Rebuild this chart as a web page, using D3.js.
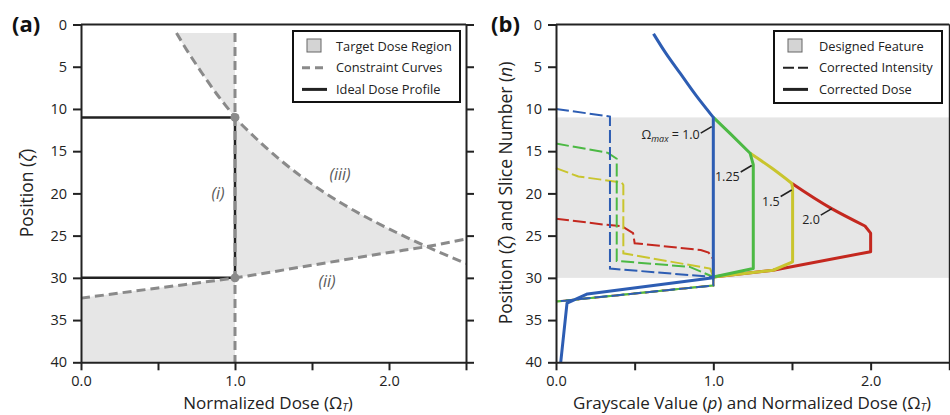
<!DOCTYPE html>
<html>
<head>
<meta charset="utf-8">
<script src="https://cdn.jsdelivr.net/npm/d3@7"></script>
<style>
  body { margin: 0; background: #fff; }
  svg text { font-family: "Open Sans", "Noto Sans", sans-serif; fill: #222; }
</style>
</head>
<body>
<div id="canvas"></div>
<script>
"use strict"

/* Data: axes */
let yTicks = [0, 5, 10, 15, 20, 25, 30, 35, 40];
let xTicks = [0, 0.5, 1, 1.5, 2, 2.5];
let xTickLabels = ["0.0", "", "1.0", "", "2.0", ""];

/* Data: panel (a) constraint curves (dose, position) */
let curveIii = [[0.62, 1], [0.70, 3.4], [0.78, 5.6], [0.88, 8.2], [0.97, 10.3], [1.0, 11],
    [1.12, 13.2], [1.24, 15.2], [1.5, 18.9], [1.77, 22], [2.0, 24.2], [2.245, 26.3], [2.5, 28.3]];
let curveIi = [[0, 32.4], [0.5, 31.2], [1.0, 30], [1.5, 28.5], [2.0, 27.0], [2.245, 26.3], [2.5, 25.4]];
let curveI = [[1, 1], [1, 40]];
let idealProfile = [[0, 11], [1, 11], [1, 30], [0, 30]];
let cornerPoints = [[1, 11], [1, 30]];
let regionTop = 1, regionBottom = 40, crossDose = 2.245;

/* Data: panel (b) */
let featureRange = [11, 30];

// corrected dose, curved part then straight part
let blueDoseCurve = [[0.62, 1.1], [0.70, 3.45], [0.79, 5.8], [0.89, 8.4], [1.0, 11]];
let blueDoseLine = [[1.0, 11], [1.0, 30], [0.2, 31.9], [0.07, 33], [0.03, 40]];
let greenDoseCurve = [[1.0, 11], [1.106, 12.9], [1.234, 15.25]];
let greenDoseLine = [[1.234, 15.25], [1.254, 16.6], [1.254, 28.9], [1.0, 29.9]];
let yellowDoseCurve = [[1.234, 15.25], [1.371, 17.0], [1.498, 18.8]];
let yellowDoseLine = [[1.498, 18.8], [1.504, 19.4], [1.504, 28.1], [1.38, 29.1], [1.0, 29.9]];
let redDoseCurve = [[1.498, 18.8], [1.752, 21.8], [1.964, 23.86]];
let redDoseLine = [[1.964, 23.86], [2.0, 24.7], [2.0, 26.9], [1.38, 29.1], [1.0, 29.9]];

// corrected intensity (grayscale value, slice)
let blueIntensity = [[0, 10.0], [0.343, 10.9], [0.343, 28.9], [1.0, 29.9], [1.0, 30.9], [0.057, 32.7], [0, 32.8]];
let greenIntensity = [[0, 14.1], [0.33, 15.2], [0.386, 15.9], [0.386, 28.0], [0.85, 28.7], [1.0, 29.9], [1.0, 30.9], [0.057, 32.7], [0, 32.8]];
let yellowIntensity = [[0, 17.0], [0.142, 18.0], [0.418, 18.7], [0.428, 19.0], [0.428, 27.1], [0.98, 28.9], [1.0, 29.9], [1.0, 30.9], [0.057, 32.7], [0, 32.8]];
let redIntensity = [[0, 23.0], [0.31, 23.7], [0.42, 23.9], [0.49, 24.7], [0.50, 25.9], [0.92, 26.7], [0.97, 27.0], [1.0, 27.8], [1.0, 29.9], [1.0, 30.9], [0.057, 32.7], [0, 32.8]];

let omegaLabels = ["1.0", "1.25", "1.5", "2.0"];
let omegaAnchors = [[0.99, 12.1], [1.244, 16.7], [1.498, 19.6], [1.753, 21.8]];

/* Colours */
let blue = "#2d5db3", green = "#4cb944", yellow = "#c9c52e", red = "#c4281f";
let constraintGrey = "#8a8a8a", shade = "#e6e6e6", ink = "#222";

/* Canvas */
let svgWidth = 950, svgHeight = 415;
let svg = d3.select("#canvas").append("svg")
    .attr("width", svgWidth)
    .attr("height", svgHeight);

/* Scales */
let yA = d3.scaleLinear().domain([0, 40]).range([24.5, 362.3]);
let xA = d3.scaleLinear().domain([0, 2.5]).range([81, 466]);
let xB = d3.scaleLinear().domain([0, 2.5]).range([556, 949.3]);

function lineGen(x, y, curve) {
    return d3.line().x(d => x(d[0])).y(d => y(d[1])).curve(curve || d3.curveLinear);
}

// join a smooth piece and a straight piece into one path
function joined(x, pieces) {
    return pieces.map((p, i) => {
        let s = lineGen(x, yA, p.smooth ? d3.curveMonotoneY : d3.curveLinear)(p.pts);
        return i == 0 ? s : s.replace(/^M/, "L");
    }).join("");
}

function drawFrame(x, y) {
    let g = svg.append("g");
    let x0 = x.range()[0], x1 = x.range()[1];
    let y0 = y.range()[0], y1 = y.range()[1];

    g.append("g").attr("transform", "translate(" + x0 + ",0)")
        .call(d3.axisLeft(y).tickValues(yTicks).tickSize(8).tickSizeOuter(0).tickPadding(6));
    g.append("g").attr("transform", "translate(0," + y1 + ")")
        .call(d3.axisBottom(x).tickValues(xTicks).tickFormat((d, i) => xTickLabels[i])
            .tickSize(8).tickSizeOuter(0).tickPadding(5));
    g.append("g").attr("transform", "translate(" + x1 + ",0)")
        .call(d3.axisRight(y).tickValues(yTicks).tickFormat("").tickSize(8).tickSizeOuter(0));
    g.append("line")
        .attr("x1", x0).attr("x2", x1)
        .attr("y1", y0).attr("y2", y0);

    g.selectAll("path, line").attr("stroke", ink).attr("stroke-width", 2);
    g.selectAll("text").attr("font-size", 14.5).attr("fill", ink)
        .attr("font-family", "'Open Sans', sans-serif");
    return g;
}

/**** Panel (a) ****/
let lineIii = lineGen(xA, yA, d3.curveMonotoneY);
let lineIi = lineGen(xA, yA, d3.curveMonotoneX);

// target dose region: three pieces
let topPiece = curveIii.filter(d => d[1] <= 11);
let midIii = curveIii.filter(d => d[1] >= 11 && d[0] <= crossDose);
let midIi = curveIi.filter(d => d[0] >= 1 && d[0] <= crossDose).reverse();
let lowIi = curveIi.filter(d => d[0] <= 1);

svg.append("path")
    .attr("d", lineIii(topPiece) + "L" + xA(1) + "," + yA(11) + "L" + xA(1) + "," + yA(regionTop) + "Z")
    .attr("fill", shade);
svg.append("path")
    .attr("d", lineIii(midIii) + lineIi(midIi).replace(/^M/, "L") + "Z")
    .attr("fill", shade);
svg.append("path")
    .attr("d", lineIi(lowIi) + "L" + xA(1) + "," + yA(regionBottom) + "L" + xA(0) + "," + yA(regionBottom) + "Z")
    .attr("fill", shade);

// ideal dose profile
svg.append("path")
    .attr("d", lineGen(xA, yA)(idealProfile))
    .attr("fill", "none")
    .attr("stroke", ink)
    .attr("stroke-width", 2.5);

// constraint curves
[lineIii(curveIii), lineIi(curveIi), lineGen(xA, yA)(curveI)].forEach(d => {
    svg.append("path")
        .attr("d", d)
        .attr("fill", "none")
        .attr("stroke", constraintGrey)
        .attr("stroke-width", 3)
        .attr("stroke-dasharray", "9,5");
});

svg.selectAll("circle.corner")
    .data(cornerPoints)
    .join("circle")
    .attr("class", "corner")
    .attr("cx", d => xA(d[0]))
    .attr("cy", d => yA(d[1]))
    .attr("r", 4.5)
    .attr("fill", constraintGrey);

// curve labels
[["(i)", 218, 199], ["(iii)", 340, 180], ["(ii)", 327, 287]].forEach(t => {
    svg.append("text")
        .attr("x", t[1]).attr("y", t[2])
        .attr("text-anchor", "middle")
        .attr("font-size", 16)
        .attr("font-style", "italic")
        .style("fill", "#5a5a5a")
        .text(t[0]);
});

drawFrame(xA, yA);

/**** Panel (b) ****/
svg.append("rect")
    .attr("x", xB(0))
    .attr("y", yA(featureRange[0]))
    .attr("width", xB(2.5) - xB(0))
    .attr("height", yA(featureRange[1]) - yA(featureRange[0]))
    .attr("fill", shade);

let lineB = lineGen(xB, yA);
[[redIntensity, red], [yellowIntensity, yellow], [greenIntensity, green], [blueIntensity, blue]].forEach(s => {
    svg.append("path")
        .attr("d", lineB(s[0]))
        .attr("fill", "none")
        .attr("stroke", s[1])
        .attr("stroke-width", 2)
        .attr("stroke-dasharray", "13,4");
});

[[redDoseCurve, redDoseLine, red], [yellowDoseCurve, yellowDoseLine, yellow],
 [greenDoseCurve, greenDoseLine, green], [blueDoseCurve, blueDoseLine, blue]].forEach(s => {
    svg.append("path")
        .attr("d", joined(xB, [{ pts: s[0], smooth: true }, { pts: s[1] }]))
        .attr("fill", "none")
        .attr("stroke", s[2])
        .attr("stroke-width", 3)
        .attr("stroke-linejoin", "round");
});

// omega labels with leaders
omegaAnchors.forEach((a, i) => {
    let ax = xB(a[0]), ay = yA(a[1]);
    let sx = ax - 11, sy = ay + 6.5;
    svg.append("line")
        .attr("x1", sx).attr("y1", sy)
        .attr("x2", ax).attr("y2", ay)
        .attr("stroke", ink)
        .attr("stroke-width", 1.6);
    let t = svg.append("text")
        .attr("x", sx - 1)
        .attr("y", sy + (i == 0 ? 6 : 9))
        .attr("text-anchor", "end")
        .attr("font-size", 12.5);
    if (i == 0) {
        t.append("tspan").text("Ω");
        t.append("tspan").attr("font-size", 9).attr("font-style", "italic").attr("dy", 3).text("max");
        t.append("tspan").attr("dy", -3).text(" = " + omegaLabels[i]);
    } else {
        t.text(omegaLabels[i]);
    }
});

drawFrame(xB, yA);

/**** Titles ****/
function omegaT(t) {
    t.append("tspan").text("Ω");
    t.append("tspan").attr("font-size", 11).attr("font-style", "italic").attr("dy", 2.5).text("T");
    t.append("tspan").attr("dy", -2.5).text(")");
}

let xTitleA = svg.append("text")
    .attr("x", 268).attr("y", 408.5)
    .attr("text-anchor", "middle")
    .attr("font-size", 17)
    .text("Normalized Dose (");
omegaT(xTitleA);

let xTitleB = svg.append("text")
    .attr("x", 752).attr("y", 408.5)
    .attr("text-anchor", "middle")
    .attr("font-size", 17)
    .text("Grayscale Value (");
xTitleB.append("tspan").attr("font-style", "italic").text("p");
xTitleB.append("tspan").text(") and Normalized Dose (");
omegaT(xTitleB);

let yTitleA = svg.append("text")
    .attr("transform", "translate(33,193) rotate(-90)")
    .attr("text-anchor", "middle")
    .attr("font-size", 17.5)
    .text("Position (");
yTitleA.append("tspan").attr("font-style", "italic").text("ζ");
yTitleA.append("tspan").text(")");

let yTitleB = svg.append("text")
    .attr("transform", "translate(512,193) rotate(-90)")
    .attr("text-anchor", "middle")
    .attr("font-size", 17.5)
    .text("Position (");
yTitleB.append("tspan").attr("font-style", "italic").text("ζ");
yTitleB.append("tspan").text(") and Slice Number (");
yTitleB.append("tspan").attr("font-style", "italic").text("n");
yTitleB.append("tspan").text(")");

[["(a)", 12], ["(b)", 491]].forEach(p => {
    svg.append("text")
        .attr("x", p[1]).attr("y", 32)
        .attr("font-size", 22)
        .attr("font-weight", "bold")
        .style("fill", "#111")
        .text(p[0]);
});

/**** Legends ****/
function legend(x, y, w, h, items) {
    let g = svg.append("g").attr("transform", "translate(" + x + "," + y + ")");
    g.append("rect")
        .attr("width", w).attr("height", h)
        .attr("fill", "#fff")
        .attr("stroke", "#111")
        .attr("stroke-width", 2);
    items.forEach((it, i) => {
        let cy = 15 + i * 21.7;
        if (it.kind == "box") {
            g.append("rect")
                .attr("x", it.sx + 5).attr("y", cy - 7)
                .attr("width", 14).attr("height", 13)
                .attr("fill", "#d4d4d4")
                .attr("stroke", "#666")
                .attr("stroke-width", 1);
        } else {
            g.append("line")
                .attr("x1", it.sx).attr("x2", it.sx + 25)
                .attr("y1", cy).attr("y2", cy)
                .attr("stroke", it.color)
                .attr("stroke-width", it.width)
                .attr("stroke-dasharray", it.dash);
        }
        g.append("text")
            .attr("x", it.tx).attr("y", cy + 4.5)
            .attr("font-size", 12.8)
            .text(it.label);
    });
}

legend(293, 31, 167, 71, [
    { kind: "box", sx: 9, tx: 43, label: "Target Dose Region" },
    { kind: "line", sx: 9, tx: 43, color: constraintGrey, width: 3, dash: "8,5", label: "Constraint Curves" },
    { kind: "line", sx: 9, tx: 43, color: ink, width: 3, dash: null, label: "Ideal Dose Profile" }
]);

legend(774, 31, 168, 72, [
    { kind: "box", sx: 9, tx: 45, label: "Designed Feature" },
    { kind: "line", sx: 9, tx: 45, color: ink, width: 2, dash: "11,4", label: "Corrected Intensity" },
    { kind: "line", sx: 9, tx: 45, color: ink, width: 3, dash: null, label: "Corrected Dose" }
]);
</script>
</body>
</html>
